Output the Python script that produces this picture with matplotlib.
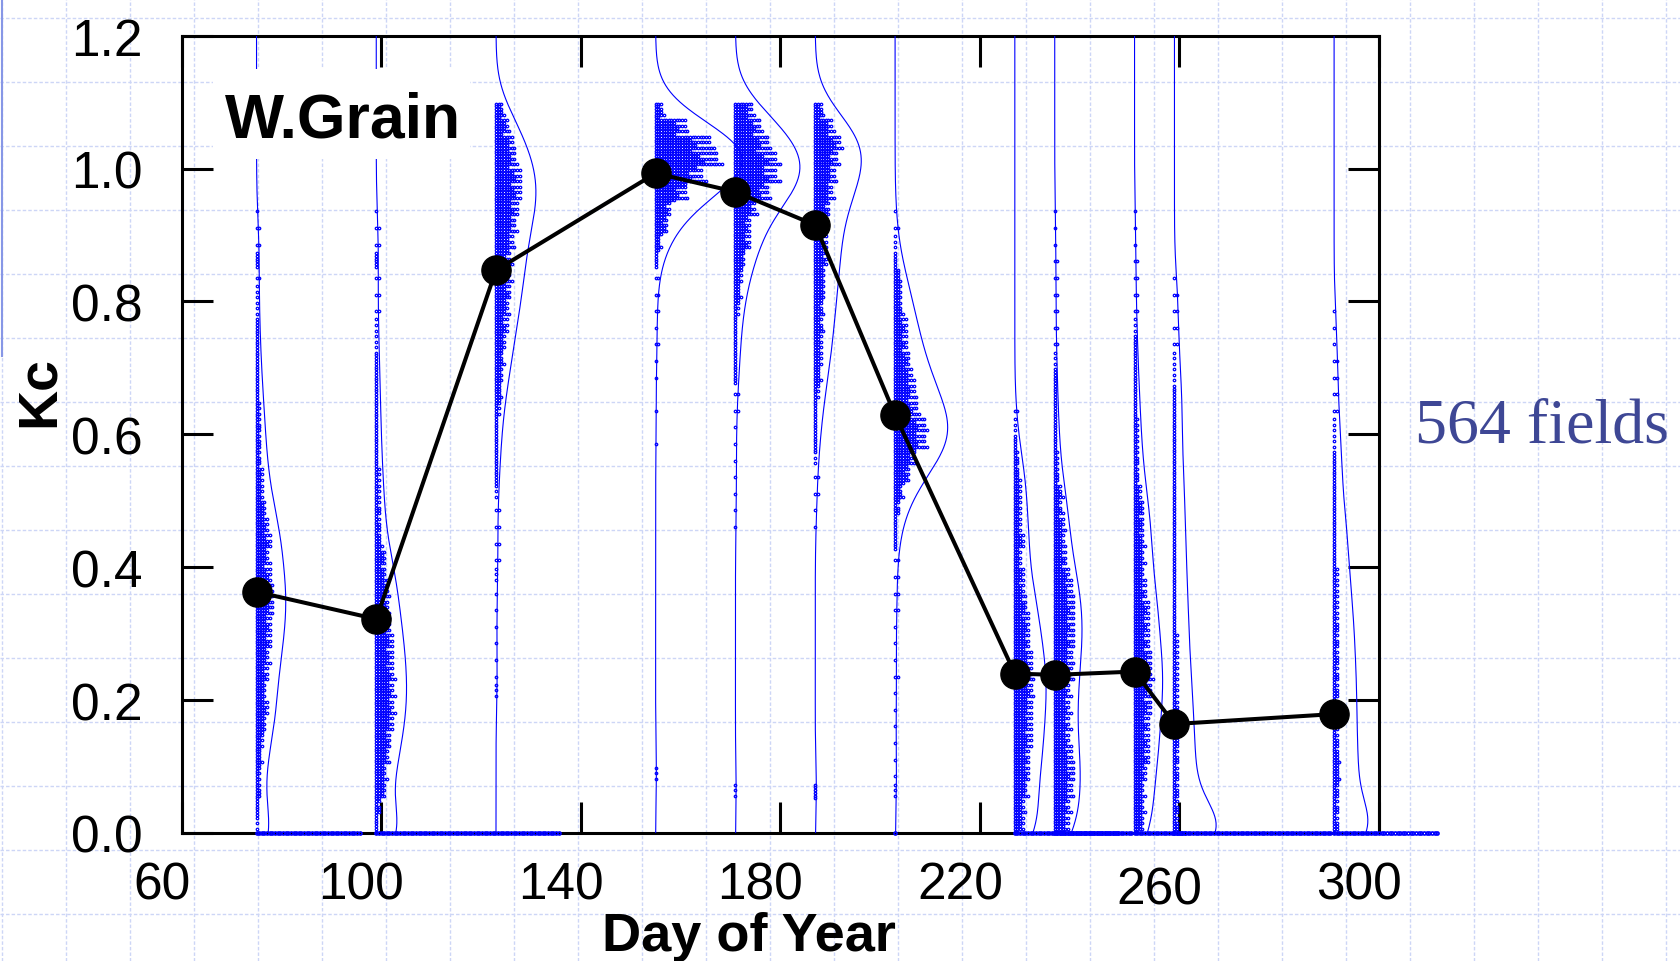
import numpy as np
import matplotlib.pyplot as plt
from matplotlib.patches import Rectangle
from matplotlib.transforms import ScaledTranslation

plt.rcParams['font.family'] = 'Liberation Sans'

# image dates (day of year) and mean Kc of the 564 fields
days = [75, 99, 123, 155, 171, 187, 203, 227, 235, 251, 259, 291]
kc_mean = [0.363, 0.322, 0.847, 0.993, 0.965, 0.915, 0.629, 0.240, 0.238, 0.243, 0.164, 0.179]

# number of fields per 0.025 Kc bin, from Kc=0 up to 1.1 (44 bins), one list per date
n_doy075 = [3, 5, 11, 9, 12, 16, 20, 24, 20, 24, 27, 30, 30, 34, 34, 30, 27, 30, 24, 20,
            15, 14, 11, 10, 10, 8, 7, 6, 5, 4, 4, 3, 3, 2, 5, 2, 2, 1, 0, 0, 0, 0, 0, 0]
n_doy099 = [7, 11, 19, 23, 27, 30, 34, 37, 37, 37, 34, 34, 30, 27, 27, 23, 19, 13, 11, 10,
            9, 8, 7, 6, 6, 5, 5, 4, 4, 3, 3, 2, 2, 2, 4, 2, 2, 1, 0, 0, 0, 0, 0, 0]
n_doy123 = [0, 0, 0, 0, 0, 0, 0, 0, 3, 1, 1, 1, 1, 1, 1, 3, 2, 2, 2, 2,
            3, 4, 5, 6, 7, 9, 12, 15, 18, 21, 24, 27, 30, 33, 33, 36, 42, 45, 50, 50, 42, 36, 27, 18]
n_doy155 = [0, 0, 0, 3, 0, 0, 0, 0, 0, 0, 0, 0, 0, 0, 0, 0, 0, 0, 0, 0,
            0, 0, 0, 1, 0, 1, 0, 1, 1, 2, 1, 2, 2, 2, 6, 12, 24, 30, 60, 96, 126, 108, 60, 18]
n_doy171 = [0, 0, 3, 0, 0, 0, 0, 0, 0, 0, 0, 0, 0, 0, 0, 0, 0, 0, 1, 1,
            1, 1, 1, 1, 1, 2, 2, 4, 5, 6, 6, 9, 12, 15, 21, 30, 30, 42, 66, 84, 84, 66, 54, 36]
n_doy187 = [0, 0, 4, 0, 0, 0, 0, 0, 0, 0, 0, 0, 0, 0, 0, 0, 0, 0, 1, 1,
            2, 2, 3, 4, 6, 7, 9, 12, 15, 15, 18, 18, 21, 21, 24, 24, 24, 30, 36, 42, 48, 54, 36, 18]
n_doy203 = [0, 0, 3, 1, 1, 1, 1, 1, 1, 2, 1, 1, 1, 2, 2, 2, 2, 4, 6, 10,
            18, 30, 42, 60, 60, 48, 42, 36, 30, 24, 24, 18, 15, 12, 6, 3, 2, 1, 0, 0, 0, 0, 0, 0]
n_doy227 = [19, 23, 27, 31, 31, 35, 35, 35, 39, 39, 35, 31, 31, 27, 23, 19, 15, 19, 15, 15,
            14, 13, 10, 4, 3, 2, 0, 0, 0, 0, 0, 0, 0, 0, 0, 0, 0, 0, 0, 0, 0, 0, 0, 0]
n_doy235 = [29, 32, 36, 40, 36, 32, 32, 32, 32, 36, 36, 40, 40, 40, 36, 32, 25, 22, 22, 18,
            17, 10, 8, 7, 6, 5, 4, 4, 3, 2, 2, 2, 2, 2, 2, 1, 1, 1, 0, 0, 0, 0, 0, 0]
n_doy251 = [19, 22, 22, 26, 30, 30, 30, 34, 34, 37, 34, 30, 30, 30, 26, 22, 22, 22, 19, 19,
            15, 11, 11, 8, 8, 7, 6, 5, 4, 4, 3, 2, 2, 2, 2, 1, 1, 1, 0, 0, 0, 0, 0, 0]
n_doy259 = [11, 11, 11, 11, 11, 10, 10, 10, 9, 8, 8, 8, 7, 7, 7, 6, 6, 6, 6, 5,
            5, 5, 4, 4, 4, 4, 4, 3, 3, 2, 2, 2, 2, 1, 0, 0, 0, 0, 0, 0, 0, 0, 0, 0]
n_doy291 = [10, 11, 11, 12, 12, 11, 11, 11, 11, 11, 10, 10, 10, 9, 8, 8, 7, 7, 6, 5,
            4, 4, 4, 3, 3, 2, 2, 2, 2, 1, 1, 1, 0, 0, 0, 0, 0, 0, 0, 0, 0, 0, 0, 0]
# fields with Kc = 0
n_zero = [40, 70, 0, 0, 0, 0, 1, 40, 30, 20, 60, 40]

xticks = [60, 100, 140, 180, 220, 260, 300]
yticks = [0.0, 0.2, 0.4, 0.6, 0.8, 1.0, 1.2]

hists = [n_doy075, n_doy099, n_doy123, n_doy155, n_doy171, n_doy187,
         n_doy203, n_doy227, n_doy235, n_doy251, n_doy259, n_doy291]

binw = 0.025
row_share = np.array([0.75, 1.25, 0.9, 1.15, 0.8, 1.15])   # uneven rows inside a bin
row_share = row_share / row_share.sum()
nrow = len(row_share)
dy = binw / nrow
dx = 0.53           # days between dots in a row
bw = 0.04           # kernel width of the density curves
curve_scale = 2.7   # days per unit of density
centers = np.arange(44) * binw + binw / 2

W, H = 1681, 962
fig = plt.figure(figsize=(W / 100, H / 100), dpi=100)

# slide background: light dashed grid
bg = fig.add_axes([0, 0, 1, 1], zorder=0)
bg.set_xlim(0, W)
bg.set_ylim(H, 0)
bg.axis('off')
for gx in range(2, W, 64):
    bg.axvline(gx, color='#cdd6f6', lw=1.0, ls=(0, (2.5, 1.5)))
for gy in range(19, H, 64):
    bg.axhline(gy, color='#cdd6f6', lw=1.0, ls=(0, (2.5, 1.5)))
bg.plot([2, 2], [0, 357], color='#8797e6', lw=1.5)
bg.add_patch(Rectangle((89, 0), 92, 920, facecolor='white', edgecolor='none'))
bg.add_patch(Rectangle((89, 838), 1329, 82, facecolor='white', edgecolor='none'))

ax = fig.add_axes([181.7 / W, 1 - 834 / H, 1197.3 / W, 797.3 / H], zorder=2)
ax.set_facecolor('none')
ax.set_xlim(60, 300)
ax.set_ylim(0, 1.2)

grid = np.linspace(0, 1.2, 481)
xs, ys, zx, zy = [], [], [], []
for d, counts, nz in zip(days, hists, n_zero):
    for i, c in enumerate(counts):
        if c == 0:
            continue
        per_row = np.floor(c * row_share + 0.5).astype(int)
        if per_row.sum() == 0:
            per_row[2] = c
        for r, n in enumerate(per_row):
            xs.extend(d + dx * np.arange(n))
            ys.extend([i * binw + (r + 0.5) * dy] * n)
    zx.extend(d + dx * np.arange(nz))
    zy.extend([0.0] * nz)

    locs = np.append(centers, 0.0)
    w = np.append(counts, nz).astype(float)
    z = (grid[:, None] - locs[None, :]) / bw
    dens = (np.exp(-0.5 * z ** 2) * w).sum(1) / (w.sum() * bw * np.sqrt(2 * np.pi))
    ax.plot(d + curve_scale * dens, grid, color='#0000ff', lw=0.8, zorder=3)

ax.plot(xs, ys, 'o', ms=1.8, mfc='none', mec='#0000ff', mew=0.9, zorder=4)
ax.plot(zx, zy, 'o', ms=2.2, mfc='none', mec='#0000ff', mew=1.2, zorder=4, clip_on=False)

ax.plot(days, kc_mean, '-o', color='black', lw=2.9, ms=21, zorder=6)

ax.add_patch(Rectangle((0.026, 0.845), 0.215, 0.113, transform=ax.transAxes,
                       facecolor='white', edgecolor='none', zorder=7))
ax.text(0.0362, 0.873, 'W.Grain', transform=ax.transAxes, ha='left', va='baseline',
        fontsize=45, fontweight='bold', zorder=8)

for s in ax.spines.values():
    s.set_linewidth(2.2)
ax.set_xticks(xticks, labels=[str(v) for v in xticks])
ax.set_yticks(yticks, labels=['%.1f' % v for v in yticks])
ax.tick_params(direction='in', length=22, width=2.2, top=True, right=True, labelsize=37)
ax.tick_params(axis='x', pad=20)
ax.tick_params(axis='y', pad=28)

ax.set_xlabel('Day of Year', fontsize=39, fontweight='bold')
ax.xaxis.set_label_coords((749 - 181.7) / 1197.3, (834 - 912) / 797.3)
ax.set_ylabel('Kc', fontsize=40, fontweight='bold')
ax.yaxis.set_label_coords((66 - 181.7) / 1197.3, (834 - 392) / 797.3)

for lab in ax.get_xticklabels():
    off_y = -0.05 if lab.get_text() == '260' else 0.0
    lab.set_transform(lab.get_transform() + ScaledTranslation(-0.2, off_y, fig.dpi_scale_trans))

fig.text(1415 / W, 1 - 443 / H, '564 fields', family='Liberation Serif', fontsize=46,
         color='#3e4795', ha='left', va='baseline')

fig.savefig('out.png', dpi=100)
